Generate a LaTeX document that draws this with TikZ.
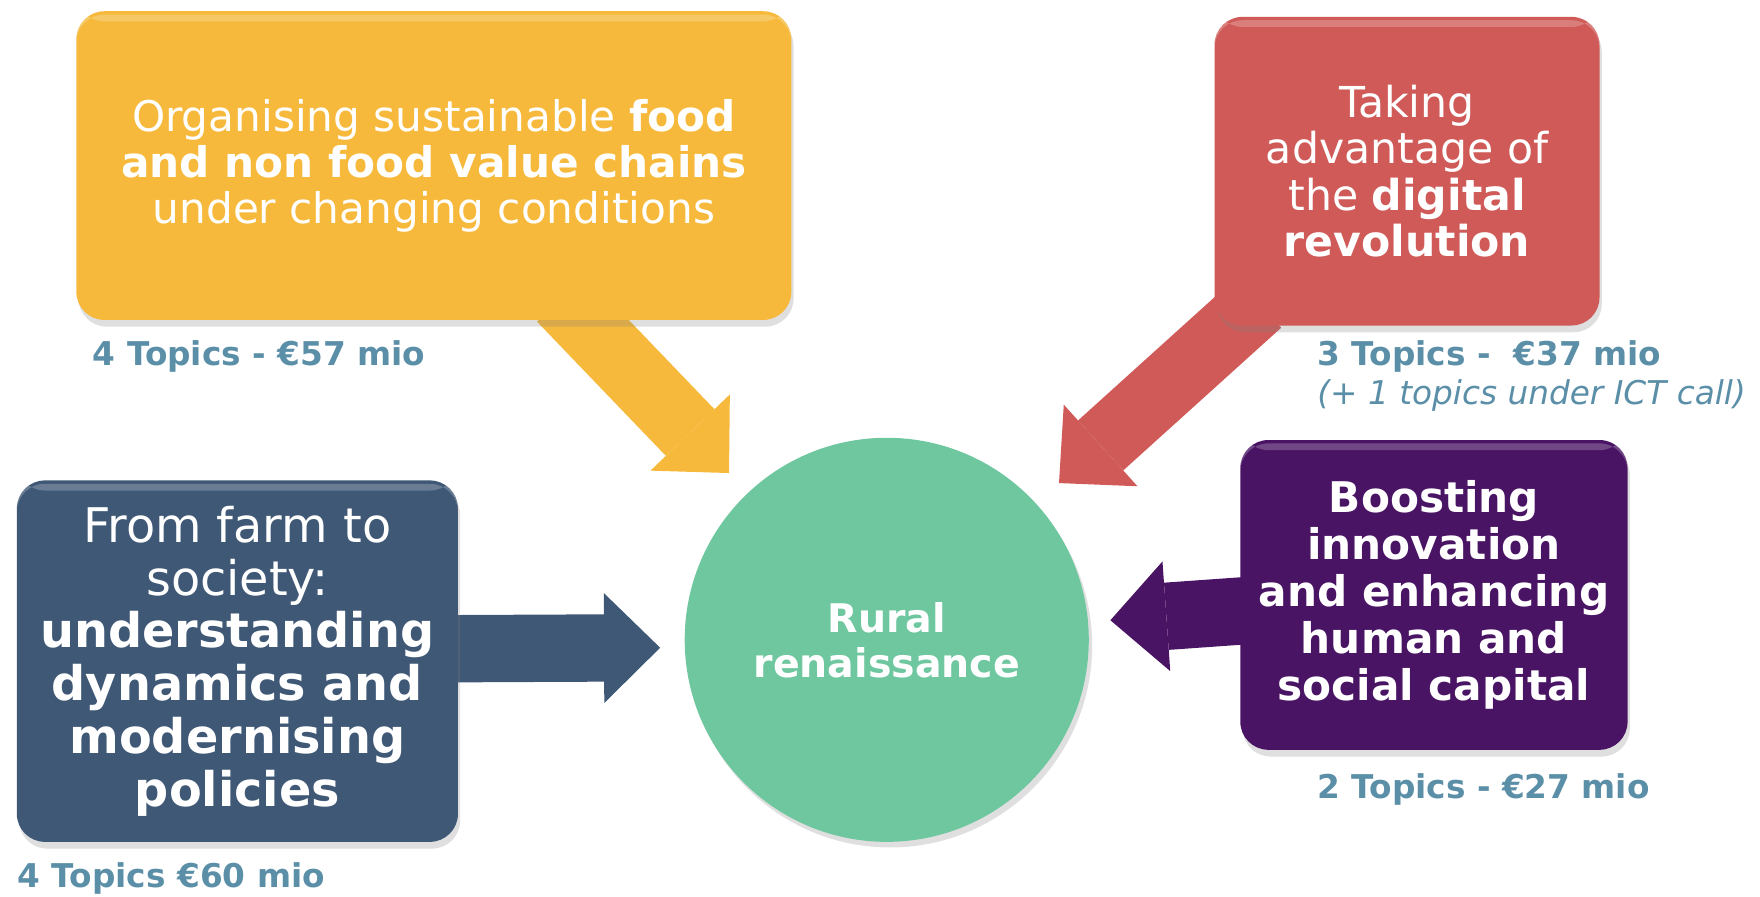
\documentclass[tikz,border=0pt]{standalone}
\usepackage{fontspec}
\setmainfont{DejaVu Sans}
\usetikzlibrary{arrows.meta}
\usetikzlibrary{calc}
\usetikzlibrary{shadows}

\definecolor{foodcol}{HTML}{F6B93B}
\definecolor{digitalcol}{HTML}{CF5A57}
\definecolor{farmcol}{HTML}{3F5876}
\definecolor{humancol}{HTML}{4A1465}
\definecolor{ruralcol}{HTML}{6FC7A0}
\definecolor{budgetcol}{HTML}{5B8FA8}

\pgfdeclarelayer{background}
\pgfsetlayers{background,main}

\tikzset{
  topic/.style={rounded corners=0.25cm, text=white, align=center, inner sep=0pt,
    drop shadow={opacity=0.25, shadow xshift=0.02cm, shadow yshift=-0.06cm},
    path picture={\fill[white, opacity=0.22]
      ([yshift=-0.03cm]path picture bounding box.north west) rectangle
      ([yshift=-0.09cm]path picture bounding box.north east);}},
  budget/.style={anchor=west, text=budgetcol, inner sep=0pt,
    font=\fontsize{8.3}{9.5}\selectfont\bfseries},
  blockarrow/.style={line width=0.6cm,
    -{Triangle[length=0.5cm, width=0.98cm, line width=0pt]}},
}

\begin{document}
\begin{tikzpicture}
            \useasboundingbox (0, 0) rectangle (15.68, -7.99);

            \node[topic, fill=foodcol, minimum width=6.37cm, minimum height=2.75cm,
                  font=\fontsize{10.7}{11.7}\selectfont] (food) at (3.865, -1.475)
                  {Organising sustainable \textbf{food}\\\textbf{and non food value chains}\\under changing conditions};
            \node[topic, fill=digitalcol, minimum width=3.43cm, minimum height=2.75cm,
                  font=\fontsize{10.8}{11.7}\selectfont] (digital) at (12.535, -1.525)
                  {Taking\\advantage of\\the \textbf{digital}\\\textbf{revolution}};
            \node[topic, fill=farmcol, minimum width=3.93cm, minimum height=3.22cm,
                  font=\fontsize{12.1}{13.4}\selectfont] (farm) at (2.115, -5.89)
                  {From farm to\\society:\\\textbf{understanding}\\\textbf{dynamics and}\\\textbf{modernising}\\\textbf{policies}};
            \node[topic, fill=humancol, minimum width=3.45cm, minimum height=2.76cm,
                  font=\fontsize{10.7}{11.95}\selectfont\bfseries] (human) at (12.775, -5.3)
                  {Boosting\\innovation\\and enhancing\\human and\\social capital};
            \node[circle, fill=ruralcol, text=white, align=center, minimum size=3.6cm,
                  font=\fontsize{10}{11.4}\selectfont\bfseries,
                  drop shadow={opacity=0.25, shadow xshift=0.03cm, shadow yshift=-0.05cm}] (rural) at (7.9, -5.7)
                  {Rural\\renaissance};

            \node[budget] (foodbudget) at (0.82, -3.18) {4 Topics - €57 mio};
            \node[budget] (digitalbudget) at (11.73, -3.18) {3 Topics -~ €37 mio};
            \node[budget, font=\fontsize{8.3}{9.5}\selectfont\itshape] (ictnote) at (11.73, -3.52) {(+ 1 topics under ICT call)};
            \node[budget] (humanbudget) at (11.73, -7.03) {2 Topics - €27 mio};
            \node[budget] (farmbudget) at (0.15, -7.83) {4 Topics €60 mio};

            \coordinate (foodtip) at ($(rural) + (133.4:2.045)$);
            \coordinate (digitaltip) at ($(rural) + (42.3:2.075)$);
            \coordinate (farmtip) at ($(rural) + (182:2.02)$);
            \coordinate (humantip) at ($(rural) + (5:2.0)$);

            \begin{pgfonlayer}{background}
                \draw[blockarrow, foodcol] ([xshift=1.135cm, yshift=0.2cm]food.south) -- (foodtip);
                \draw[blockarrow, digitalcol] ([xshift=0.4cm, yshift=0.21cm]digital.south west) -- (digitaltip);
                \draw[blockarrow, farmcol] ([xshift=-0.2cm, yshift=0.11cm]farm.east) -- (farmtip);
                \draw[blockarrow, humancol] ([xshift=0.2cm, yshift=-0.13cm]human.west) -- (humantip);
            \end{pgfonlayer}
        \end{tikzpicture}
\end{document}
